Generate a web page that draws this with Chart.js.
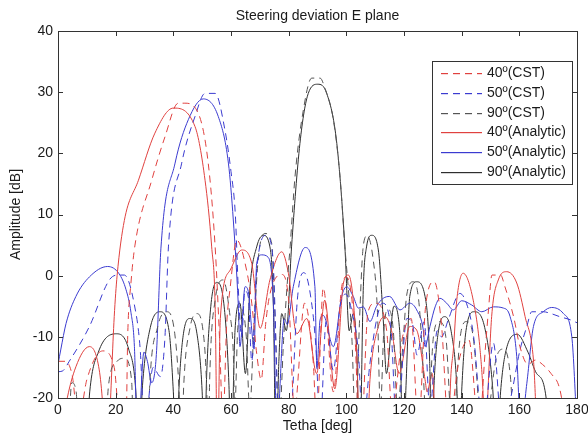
<!DOCTYPE html>
<html>
<head>
<meta charset="utf-8">
<script src="https://cdn.jsdelivr.net/npm/chart.js@4.4.1/dist/chart.umd.min.js"></script>
<style>
  html, body { margin: 0; padding: 0; background: #fff; }
  #wrap { width: 588px; height: 437px; }
</style>
</head>
<body>
<div id="wrap"><canvas id="chart"></canvas></div>
<script>
// readings: [theta (deg), amplitude (dB)], values below -20 fall outside the axis
const cst40 = [[0,-14],[2.5,-14],[5,-16.5],[7,-24],[10,-17],[15.5,-12.3],[19.5,-15],[21.5,-24],[23.6,-24],[24.2,-9.4],[25.3,-1.2],[26.7,5],[32.5,15.6],[37.1,22.7],[41.7,28.2],[44,28.2],[48.7,26.5],[52.1,18.4],[54.5,4.7],[56,-10],[57.2,-24],[58.5,-8],[59.7,-2],[62,5.8],[65.4,0.9],[67.2,-4.5],[68.9,-12.7],[70.5,-17],[72,-8],[73.5,-3],[77.5,0.2],[80,-4],[82,-22],[85.5,-4.5],[88.5,-14],[89.7,-24],[92,-2],[95.5,-19],[98.4,-1.8],[100.1,-0.2],[103,-10],[104.8,-30],[107.5,-6],[110,-4.5],[114,-9],[115.8,-22],[119.5,-10],[122.5,-7],[125,-25],[127.5,-5],[130.5,-1],[133,-8],[135.5,-25],[139,-14],[142.5,-10.5],[146,-25],[148.2,-12],[149.3,-5.6],[150.5,0.1],[153.5,0.1],[155,-1.8],[158,-6.7],[160.2,-11.6],[163,-14.5],[165.5,-13.8],[168,-14.5],[171,-16],[174,-18.5],[176,-24]];

const cst50 = [[0,-15.7],[1.5,-15.6],[3.9,-14],[10.9,-8.3],[17.8,-0.7],[20.7,0.1],[23,0.1],[26.5,-4.8],[28.5,-12],[30,-25],[33,-15],[35.5,-16.5],[37.1,-10],[38.3,4.7],[42.9,18.4],[47.5,26],[51,29.8],[54.5,29.8],[57.9,23.8],[60,17],[61.5,10],[62.5,-1.8],[63.7,-10],[64.8,-2.5],[66,-3.5],[67.2,-14],[68.9,0.9],[72.3,6.6],[74.5,3],[76.6,-25],[78.8,-30],[81,-22],[83,-4],[85.3,0.5],[87.5,-3],[89.5,-12],[90.9,-25],[93,-7.5],[95.5,-15.5],[97.8,-5.1],[99.8,-3],[102,-6],[104.2,-12.7],[105.7,-25],[108.2,-14.3],[110.5,-7.2],[112.5,-4.5],[115.5,-9],[117.5,-25],[121,-7],[123,-8],[124.5,-13],[127,-7.5],[129,-22],[131.5,-9],[133,-10],[135.5,-7],[139.4,-2.9],[142,-5],[144,-9.4],[147.5,-25],[151,-11],[154,-25],[157,-20],[160.2,-12.2],[162.6,-8.3],[164.3,-5.9],[168.3,-5.9],[171,-6.2],[174,-6.7],[177.6,-7.2],[180,-7.7]];

const cst90 = [[0,-30],[3,-30],[4.8,-17.5],[6.3,-19],[7.5,-30],[16,-30],[17.5,-18],[20.5,-14],[23,-13.5],[25.5,-17],[26.5,-30],[31,-30],[31.8,-18],[34.5,-8.5],[37.7,-5.9],[40.5,-9.5],[42,-19],[42.8,-30],[43.6,-18],[45.8,-8.5],[48.1,-6.2],[50.3,-9],[51.6,-19],[52.1,-30],[52.6,-17],[54.5,-4],[57.3,-0.7],[59.5,-6],[60.8,-12.7],[61.3,-22],[62.3,-9],[63.7,-5.5],[65.3,-10],[66.5,-22],[67.8,-10],[69.5,3],[71.8,6.9],[74.1,5.3],[75.3,-7.2],[76.6,-25],[78.3,-10],[79.7,0],[80.5,4.7],[82.2,16.2],[85.1,27.1],[88,32.3],[90.9,32.3],[92.6,30.6],[95.5,25.5],[97.8,16.2],[99.5,4.7],[100.5,-1],[101.9,-10],[103.2,-25],[104.6,-7],[105.8,4.5],[107.2,6.5],[109.2,3],[110.8,-6],[111.8,-22],[113,-9],[114.5,-5.5],[116.3,-9],[117.8,-22],[119.5,-12],[121,-3],[123.2,-1],[125.3,-5],[127.3,-22],[128,-30],[129,-20],[130.2,-10],[132.2,-7.5],[134.5,-10],[136,-22],[137,-30],[138,-20],[139.5,-10],[141.7,-7.5],[144,-10],[146,-22],[147,-30],[149.5,-22],[152,-13.5],[154.5,-12],[157,-17],[158.5,-30],[180,-30]];

const ana40 = [[0,-30],[2.8,-21],[6.2,-14.9],[10.9,-11.6],[14.3,-15.4],[15.5,-21],[16.6,-30],[17.8,-24],[19.5,-6.7],[20.5,0],[23,9],[27.9,15.6],[33.6,23.3],[40,27.4],[47.5,24.4],[51,15.6],[53.3,4.7],[54.5,-5],[55.3,-30],[56.3,-7],[59.7,0.9],[63.7,4.2],[67.2,2],[70.1,-8.6],[73.5,-0.7],[77.6,3.9],[79.9,0.4],[82.8,-9.5],[86.3,-7],[89.7,-16],[92.5,-4],[96,-18.5],[99,-1.2],[100.7,0.1],[103.6,-12.7],[104.8,-30],[106.8,-30],[108.2,-17],[111.1,-8.3],[113.4,-6.7],[115.7,-9],[118.3,-16],[122,-8.3],[124.4,-8.9],[127.3,-17],[128,-19],[129.8,-16],[131.5,-30],[135,-30],[136.3,-16],[137.1,-12.2],[138.3,-4],[140.5,0.4],[144,-4],[146.4,-12.2],[147.5,-20],[148.2,-30],[149.2,-18],[150.4,-6.7],[152.7,-0.7],[155.6,0.65],[159.1,-1.2],[162,-6.7],[164.9,-13.8],[166.8,-30],[180,-30]];

const ana50 = [[0,-14.5],[1,-12],[2.8,-7.8],[6.2,-3.4],[10.9,-0.2],[17.2,1.5],[21.2,0.3],[23.6,-2.3],[25.3,-6],[26.5,-11.6],[27.6,-28],[29.8,-12.5],[31,-14],[32.5,-17.5],[33.5,-16],[34.2,-12.2],[35.7,4.5],[40.6,18.4],[45.2,25.5],[50.4,28.9],[55.6,26],[59.1,18.4],[60.8,9.1],[62.5,-4.5],[63.1,-11.6],[64.9,-1.8],[66,-2.6],[67.2,-8.9],[68,-12],[68.9,2],[70.6,3.4],[72.9,3],[74.7,-4.5],[75.9,-25],[78.5,-7],[79.5,-8],[81.6,-1.8],[85.7,4.6],[89.1,-1.8],[89.8,-15],[90.9,-7.2],[92,-6.5],[95.5,-11.6],[98.4,-3.4],[100.1,-1.8],[102.4,-3.4],[104.2,-5.3],[105.9,-5.1],[108.2,-7.5],[110.5,-5],[112.8,-3.7],[115,-3.4],[118.6,-5.6],[122,-4.5],[124.4,-5.6],[126.7,-8.9],[127.3,-11.6],[129,-8.3],[130.8,-5.1],[132.5,-3.7],[134.8,-4.5],[137.1,-5.6],[140,-4.1],[143.5,-4.8],[147,-5.9],[151,-5.1],[154.5,-5.3],[156.8,-6.7],[159.1,-13.2],[160.5,-25],[162.6,-17.6],[164.9,-8.3],[168.3,-5.9],[171.2,-5.2],[175.3,-6.2],[178.2,-10],[180,-25]];

const ana90 = [[0,-30],[9.5,-30],[11,-19],[14,-12.5],[20.3,-9.5],[24.5,-12],[27,-19],[28,-30],[29.3,-18],[32,-8.5],[35.4,-5.9],[38.5,-9],[40,-19],[41,-30],[42,-18],[43.5,-9.5],[45.8,-7],[48.2,-9.5],[50,-19],[50.8,-30],[51.5,-17],[53,-5],[55,-1.1],[57.5,-4.5],[59.3,-18],[60,-30],[61.4,-8.9],[63.1,-4.5],[65,-16],[66.6,-1.8],[68.9,4.7],[71.2,6.6],[73.5,4.7],[74.7,-5],[75.6,-30],[76.6,-14],[77.6,-6.2],[79.2,-9],[81,4.7],[83.9,21.6],[86.8,29.8],[90.1,31.3],[93.2,29.8],[96.7,21.6],[99.5,4.7],[101,-9],[102.4,-6.2],[103.6,-12],[104.6,-30],[105.9,-1.8],[107,4.7],[108.8,6.6],[111.1,4.2],[112.8,-7.2],[113.9,-16],[116.5,-5],[118.5,-9],[119.7,-30],[120.7,-18],[122,-3.4],[124.4,-1],[127.3,-3.4],[128.9,-14],[129.6,-30],[130.4,-18],[131.8,-9.5],[134.2,-6.7],[136.5,-9.5],[138.3,-18],[139.2,-30],[140,-19],[141.5,-9],[144.3,-5.9],[148,-8.5],[150.7,-18],[152.2,-30],[153.5,-19],[155.5,-12],[159.3,-9.6],[163,-12.5],[166,-16],[169.3,-20],[170.2,-30],[180,-30]];

const seriesLabels = ['40º(CST)', '50º(CST)', '90º(CST)', '40º(Analytic)', '50º(Analytic)', '90º(Analytic)'];
const thetaTicks = [0, 20, 40, 60, 80, 100, 120, 140, 160, 180];
const ampTicks = [-20, -10, 0, 10, 20, 30, 40];

const RED = '#e0413f';
const BLUE = '#3b3bd0';
const DARK = '#2e2e2e';
const GREY = '#555555';
const seriesColors = [RED, BLUE, GREY, RED, BLUE, DARK];
const seriesDashed = [true, true, true, false, false, false];
const DASH = [7, 5];
const FONT = "'Liberation Sans', Arial, sans-serif";

const toPoints = arr => arr.map(p => ({ x: p[0], y: p[1] }));

function makeSet(i, arr) {
  return {
    label: seriesLabels[i],
    data: toPoints(arr),
    borderColor: seriesColors[i],
    borderWidth: 1,
    borderDash: seriesDashed[i] ? DASH : [],
    pointRadius: 0,
    fill: false,
    cubicInterpolationMode: 'monotone'
  };
}

// caja estilo matlab: marco, marcas hacia dentro, titulo y leyenda
const boxPlugin = {
  id: 'matlabBox',
  afterDraw(chart) {
    const { ctx, chartArea: a, scales: { x, y } } = chart;
    ctx.save();
    ctx.strokeStyle = '#333';
    ctx.lineWidth = 1;
    ctx.setLineDash([]);
    ctx.strokeRect(a.left + 0.5, a.top + 0.5, a.right - a.left, a.bottom - a.top);

    const tl = 5;
    ctx.beginPath();
    thetaTicks.forEach(v => {
      const px = Math.round(x.getPixelForValue(v)) + 0.5;
      ctx.moveTo(px, a.bottom); ctx.lineTo(px, a.bottom - tl);
      ctx.moveTo(px, a.top); ctx.lineTo(px, a.top + tl);
    });
    ampTicks.forEach(v => {
      const py = Math.round(y.getPixelForValue(v)) + 0.5;
      ctx.moveTo(a.left, py); ctx.lineTo(a.left + tl, py);
      ctx.moveTo(a.right, py); ctx.lineTo(a.right - tl, py);
    });
    ctx.stroke();

    // titulo centrado sobre el area del grafico
    ctx.fillStyle = '#1a1a1a';
    ctx.font = '14px ' + FONT;
    ctx.textAlign = 'center';
    ctx.textBaseline = 'middle';
    ctx.fillText('Steering deviation E plane', (a.left + a.right) / 2, 16);

    // leyenda
    const lx = a.right - 145, ly = a.top + 30, lw = 140, lh = 123;
    ctx.fillStyle = '#fff';
    ctx.fillRect(lx, ly, lw, lh);
    ctx.strokeStyle = '#333';
    ctx.strokeRect(lx + 0.5, ly + 0.5, lw, lh);
    ctx.textAlign = 'left';
    seriesLabels.forEach((label, i) => {
      const ry = Math.round(ly + 12 + i * 19.8);
      ctx.fillStyle = seriesColors[i];
      if (seriesDashed[i]) {
        // trazos sueltos para la muestra discontinua
        for (let sx = lx + 9; sx < lx + 50; sx += DASH[0] + DASH[1]) {
          ctx.fillRect(sx, ry, Math.min(DASH[0], lx + 50 - sx), 1.2);
        }
      } else {
        ctx.fillRect(lx + 9, ry, 41, 1.2);
      }
      ctx.fillStyle = '#1a1a1a';
      ctx.fillText(label, lx + 55, ry + 0.5);
    });
    ctx.restore();
  }
};

Chart.defaults.font.family = FONT;
Chart.defaults.font.size = 14;
Chart.defaults.color = '#1a1a1a';

new Chart(document.getElementById('chart'), {
  type: 'line',
  data: {
    datasets: [
      makeSet(0, cst40),
      makeSet(1, cst50),
      makeSet(2, cst90),
      makeSet(3, ana40),
      makeSet(4, ana50),
      makeSet(5, ana90)
    ]
  },
  options: {
    responsive: true,
    maintainAspectRatio: false,
    animation: false,
    events: [],
    layout: { padding: { top: 31, right: 11, bottom: 2, left: 8 } },
    plugins: {
      legend: { display: false },
      tooltip: { enabled: false },
      title: { display: false }
    },
    scales: {
      x: {
        type: 'linear',
        min: 0,
        max: 180,
        afterBuildTicks: s => { s.ticks = thetaTicks.map(v => ({ value: v })); },
        afterFit: s => { s.height = 37; s.paddingLeft = 0; s.paddingRight = 0; },
        grid: { display: false, drawTicks: false },
        border: { display: false },
        ticks: { padding: 4, maxRotation: 0, autoSkip: false },
        title: { display: true, text: 'Tetha [deg]', padding: 0 }
      },
      y: {
        type: 'linear',
        min: -20,
        max: 40,
        afterBuildTicks: s => { s.ticks = ampTicks.map(v => ({ value: v })); },
        afterFit: s => { s.width = 50; },
        grid: { display: false, drawTicks: false },
        border: { display: false },
        ticks: { padding: 5 },
        title: { display: true, text: 'Amplitude [dB]', padding: 0 }
      }
    }
  },
  plugins: [boxPlugin]
});
</script>
</body>
</html>
